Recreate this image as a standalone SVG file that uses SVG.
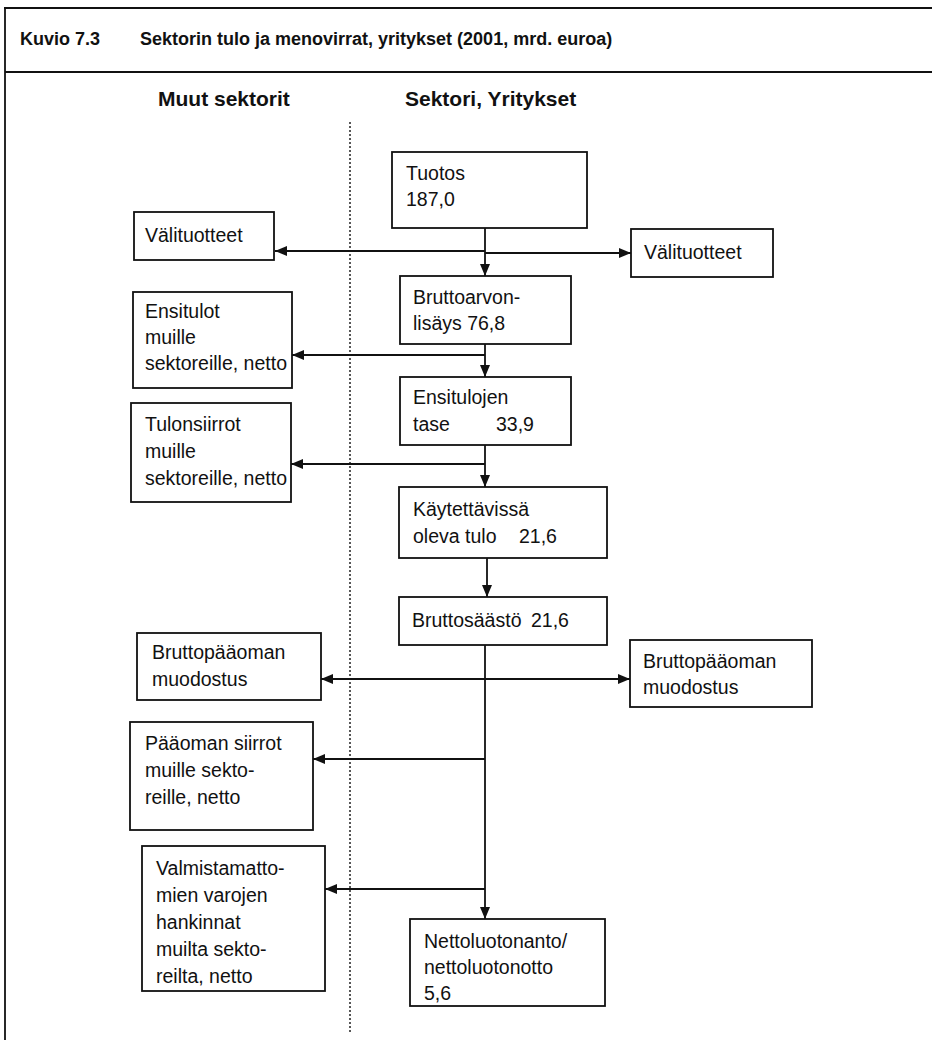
<svg xmlns="http://www.w3.org/2000/svg" width="932" height="1040" viewBox="0 0 932 1040">
<style>
text{font-family:"Liberation Sans",Arial,sans-serif;fill:#111}
.t{font-size:19.5px}
.h{font-size:21px;font-weight:bold}
.ti{font-size:18px;font-weight:bold}
.box{fill:#fff;stroke:#111;stroke-width:1.8}
.ln{fill:none;stroke:#111;stroke-width:1.8}
.c{fill:none;stroke:#111;stroke-width:1.8;marker-end:url(#ah)}
</style>
<defs>
<marker id="ah" viewBox="0 0 12 10" refX="12" refY="5" markerWidth="12" markerHeight="10" markerUnits="userSpaceOnUse" orient="auto">
<path d="M0,0 L12,5 L0,10 z" fill="#111"/>
</marker>
</defs>
<rect width="932" height="1040" fill="#fff"/>
<g id="frame">
<line class="ln" x1="4" y1="8" x2="932" y2="8"/>
<line class="ln" x1="5" y1="8" x2="5" y2="1040"/>
<line class="ln" x1="5" y1="72" x2="932" y2="72"/>
<line x1="350" y1="122" x2="350" y2="1032" stroke="#111" stroke-width="1.4" stroke-dasharray="2,2"/>
<text class="ti" x="20" y="45">Kuvio 7.3</text>
<text class="ti" x="140" y="45">Sektorin tulo ja menovirrat, yritykset (2001, mrd. euroa)</text>
<text class="h" x="158" y="106">Muut sektorit</text>
<text class="h" x="405" y="106">Sektori, Yritykset</text>
</g>
<g id="connectors">
<line class="c" x1="485" y1="228" x2="485" y2="276"/>
<line class="c" x1="485" y1="251" x2="275" y2="251"/>
<line class="c" x1="485" y1="253" x2="631" y2="253"/>
<line class="c" x1="485" y1="344" x2="485" y2="377"/>
<line class="c" x1="485" y1="355" x2="292" y2="355"/>
<line class="c" x1="485" y1="445" x2="485" y2="487"/>
<line class="c" x1="485" y1="464" x2="291" y2="464"/>
<line class="c" x1="487" y1="558" x2="487" y2="597"/>
<line class="c" x1="485" y1="645" x2="485" y2="919"/>
<line class="c" x1="485" y1="679" x2="321" y2="679"/>
<line class="c" x1="485" y1="679" x2="630" y2="679"/>
<line class="c" x1="485" y1="759" x2="313" y2="759"/>
<line class="c" x1="485" y1="889" x2="325" y2="889"/>
</g>
<g id="tuotos">
<rect class="box" x="392" y="152" width="195" height="76"/>
<text class="t" x="406" y="180">Tuotos</text>
<text class="t" x="406" y="206">187,0</text>
</g>
<g id="valituotteet-muut">
<rect class="box" x="134" y="212" width="140" height="48"/>
<text class="t" x="145" y="242">Välituotteet</text>
</g>
<g id="valituotteet-yritykset">
<rect class="box" x="631" y="229" width="142" height="48"/>
<text class="t" x="644" y="259">Välituotteet</text>
</g>
<g id="bruttoarvonlisays">
<rect class="box" x="400" y="276" width="171" height="68"/>
<text class="t" x="413" y="304">Bruttoarvon-</text>
<text class="t" x="413" y="330">lisäys 76,8</text>
</g>
<g id="ensitulot">
<rect class="box" x="133" y="292" width="159" height="96"/>
<text class="t" x="145" y="318">Ensitulot</text>
<text class="t" x="145" y="344">muille</text>
<text class="t" x="145" y="370">sektoreille, netto</text>
</g>
<g id="ensitulojen-tase">
<rect class="box" x="400" y="377" width="171" height="68"/>
<text class="t" x="413" y="404">Ensitulojen</text>
<text class="t" x="413" y="431">tase</text>
<text class="t" x="496" y="431">33,9</text>
</g>
<g id="tulonsiirrot">
<rect class="box" x="131" y="403" width="160" height="99"/>
<text class="t" x="145" y="431">Tulonsiirrot</text>
<text class="t" x="145" y="458">muille</text>
<text class="t" x="145" y="485">sektoreille, netto</text>
</g>
<g id="kaytettavissa">
<rect class="box" x="399" y="487" width="208" height="71"/>
<text class="t" x="413" y="516">Käytettävissä</text>
<text class="t" x="413" y="543">oleva tulo</text>
<text class="t" x="519" y="543">21,6</text>
</g>
<g id="bruttosaasto">
<rect class="box" x="399" y="597" width="208" height="48"/>
<text class="t" x="412" y="627">Bruttosäästö</text>
<text class="t" x="531" y="627">21,6</text>
</g>
<g id="bruttopaaoma-muut">
<rect class="box" x="137" y="633" width="184" height="67"/>
<text class="t" x="152" y="659">Bruttopääoman</text>
<text class="t" x="152" y="686">muodostus</text>
</g>
<g id="bruttopaaoma-yritykset">
<rect class="box" x="630" y="640" width="182" height="67"/>
<text class="t" x="643" y="668">Bruttopääoman</text>
<text class="t" x="643" y="694">muodostus</text>
</g>
<g id="paaoman-siirrot">
<rect class="box" x="130" y="722" width="183" height="108"/>
<text class="t" x="145" y="750">Pääoman siirrot</text>
<text class="t" x="145" y="777">muille sekto-</text>
<text class="t" x="145" y="804">reille, netto</text>
</g>
<g id="valmistamattomat">
<rect class="box" x="142" y="846" width="183" height="145"/>
<text class="t" x="156" y="875">Valmistamatto-</text>
<text class="t" x="156" y="902">mien varojen</text>
<text class="t" x="156" y="929">hankinnat</text>
<text class="t" x="156" y="956">muilta sekto-</text>
<text class="t" x="156" y="983">reilta, netto</text>
</g>
<g id="nettoluotonanto">
<rect class="box" x="410" y="919" width="195" height="87"/>
<text class="t" x="424" y="948">Nettoluotonanto/</text>
<text class="t" x="424" y="974">nettoluotonotto</text>
<text class="t" x="424" y="1000">5,6</text>
</g>
</svg>
